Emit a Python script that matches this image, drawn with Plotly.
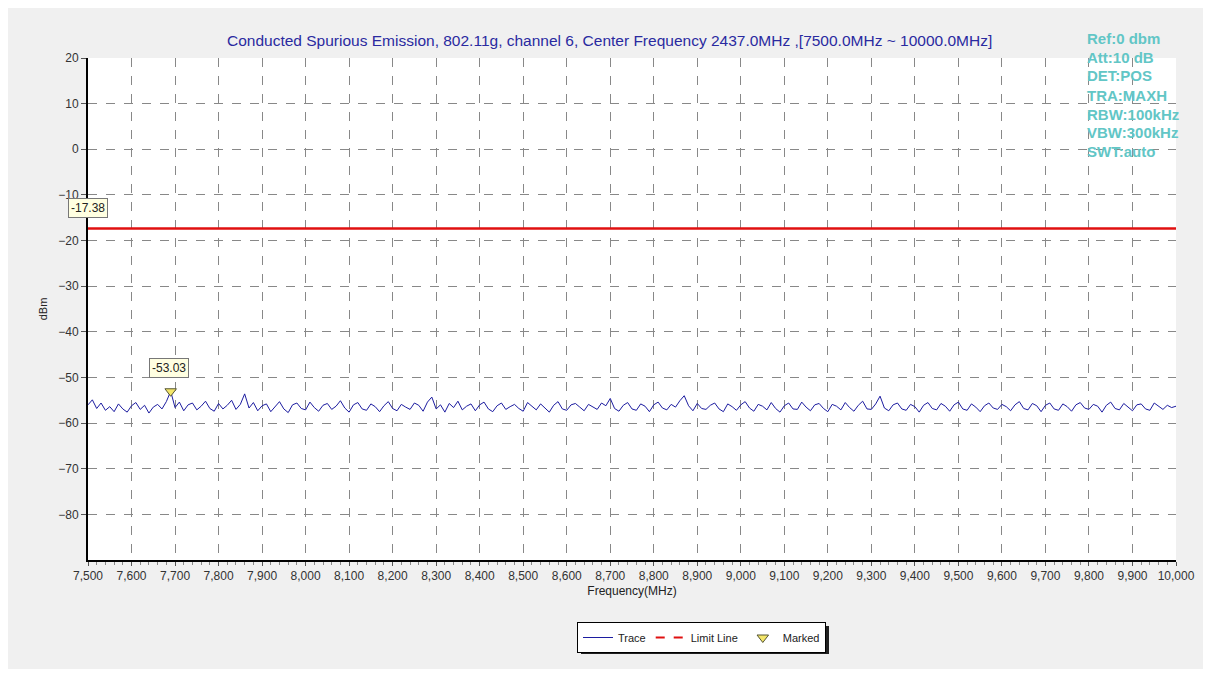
import numpy as np
import plotly.graph_objects as go

# ---------------- data ----------------
f_start = 7500.0
f_stop = 10000.0
trace_dbm = [
    -56.0, -54.9, -56.8, -55.6, -57.2, -56.4, -57.5, -55.8, -56.9, -57.6,
    -56.2, -55.5, -57.0, -56.1, -57.8, -56.5, -55.9, -56.9, -55.3, -53.03,
    -56.6, -55.4, -57.3, -56.0, -55.6, -57.1, -56.3, -55.2, -56.8, -57.4,
    -55.7, -56.9, -56.1, -55.0, -57.0, -55.9, -53.6, -56.7, -55.5, -57.3,
    -56.2, -55.8, -57.5, -56.4, -55.3, -56.9, -57.7, -56.0, -55.6, -56.8,
    -57.1, -55.4, -56.6, -57.4, -56.1, -55.7, -57.0, -56.3, -55.1, -56.7,
    -57.6, -56.0, -55.5, -56.9, -57.2, -55.8, -56.4, -57.5, -56.2, -55.3,
    -56.8, -57.3, -55.9, -56.5, -57.0, -55.6, -56.1, -57.4, -55.4, -54.3,
    -56.9, -56.0, -57.6, -55.7, -56.6, -55.2, -57.1, -56.3, -55.8, -57.3,
    -56.0, -55.4, -56.9, -57.5, -56.2, -55.6, -57.0, -56.4, -55.9, -56.8,
    -57.4, -55.5, -56.3, -57.1, -55.8, -56.7, -57.6, -56.1, -55.3, -56.9,
    -57.2, -56.0, -55.7, -56.5, -57.3, -55.9, -56.4, -57.0, -55.6, -56.2,
    -54.6, -56.8, -57.4, -56.1, -55.5, -56.9, -57.2, -55.8, -56.3, -57.5,
    -56.0, -55.4, -56.7, -57.1, -55.9, -56.5, -55.1, -54.0, -56.2, -57.3,
    -55.7, -56.8, -57.0, -56.1, -55.6, -56.9, -57.5, -55.8, -56.4, -57.2,
    -56.0, -55.3, -56.7, -57.4, -55.9, -56.3, -57.1, -55.5, -56.8, -57.6,
    -56.2, -55.6, -56.9, -57.0, -55.4, -56.5, -57.3, -56.0, -55.7, -56.8,
    -57.5, -55.9, -56.3, -57.1, -55.5, -56.6, -57.4, -56.1, -55.2, -56.9,
    -57.0, -55.8, -54.1, -56.7, -57.3, -56.0, -55.6, -56.9, -57.2, -55.9,
    -56.4, -57.6, -56.1, -55.5, -56.8, -57.1, -55.7, -56.3, -57.4, -56.0,
    -55.4, -56.9, -57.2, -55.8, -56.5, -57.5, -56.2, -55.6, -56.7, -57.0,
    -55.9, -56.4, -57.3, -56.0, -55.3, -56.8, -57.1, -55.7, -56.2, -57.5,
    -56.1, -55.6, -56.9, -57.2, -55.8, -56.4, -57.4, -56.0, -55.5, -56.7,
    -57.0, -55.9, -56.3, -57.6, -56.1, -55.4, -56.8, -57.1, -55.7, -56.5,
    -57.3, -56.0, -55.8, -56.9, -57.2, -55.6, -56.4, -57.0, -56.1, -56.6,
    -56.3,
]
freq_mhz = np.linspace(f_start, f_stop, len(trace_dbm))

limit_dbm = -17.38
limit_freq = [f_start, f_stop]

marked_freq = [7690.0]
marked_dbm = [-53.03]

y_ticks = [20, 10, 0, -10, -20, -30, -40, -50, -60, -70, -80]
x_ticks = list(range(7500, 10001, 100))
x_tick_labels = [f"{v:,}" for v in x_ticks]

title_text = ("Conducted Spurious Emission, 802.11g, channel 6, Center Frequency "
              "2437.0MHz ,[7500.0MHz ~ 10000.0MHz]")
info_lines = ["Ref:0 dbm", "Att:10 dB", "DET:POS", "TRA:MAXH",
              "RBW:100kHz", "VBW:300kHz", "SWT:auto"]

# ---------------- figure ----------------
OFF = 8                      # page body margin
W, H = 1211 - 2 * OFF, 677 - 2 * OFF
PL, PR, PT, PB = 88, 1176, 58, 560   # plot area in screenshot pixels
L, R, T, B = PL - OFF, W - (PR - OFF), PT - OFF, H - (PB - OFF)
pw, ph = W - L - R, H - T - B

def px_x(px):
    return (px - OFF - L) / pw

def px_y(py):
    return (H - B - (py - OFF)) / ph

FONT = "Liberation Sans, Arial, sans-serif"

fig = go.Figure()
fig.add_trace(go.Scatter(x=freq_mhz, y=trace_dbm, mode="lines", name="Trace",
                         line=dict(color="#1c1ca0", width=1)))
fig.add_trace(go.Scatter(x=limit_freq, y=[limit_dbm, limit_dbm], mode="lines",
                         name="Limit Line", showlegend=False,
                         line=dict(color="#e01010", width=2.5)))
fig.add_trace(go.Scatter(x=[None], y=[None], mode="lines", name="Limit Line",
                         line=dict(color="#e01010", width=2, dash="dash")))
fig.add_trace(go.Scatter(x=marked_freq, y=marked_dbm, mode="markers", name="Marked",
                         marker=dict(symbol="triangle-down", size=10, color="#f4e66a",
                                     line=dict(color="#555533", width=1))))

# marker label boxes
fig.add_annotation(x=marked_freq[0], y=marked_dbm[0], text=f"{marked_dbm[0]:.2f}",
                   showarrow=False, yshift=23, xshift=-2,
                   font=dict(family=FONT, size=12, color="#222"),
                   bgcolor="#ffffe1", bordercolor="#777", borderwidth=1, borderpad=2)
fig.add_annotation(x=f_start, y=limit_dbm, text=f"{limit_dbm:.2f}",
                   showarrow=False, yshift=21, xshift=0,
                   font=dict(family=FONT, size=12, color="#222"),
                   bgcolor="#ffffe1", bordercolor="#777", borderwidth=1, borderpad=2)

# title
fig.add_annotation(xref="paper", yref="paper", x=px_x(609), y=px_y(40),
                   text=title_text, showarrow=False, xanchor="center", yanchor="middle",
                   font=dict(family=FONT, size=15.5, color="#2a2aa0"))

# info block
for i, s in enumerate(info_lines):
    fig.add_annotation(xref="paper", yref="paper", x=px_x(1085), y=px_y(38 + i * 19),
                       text=f"<b>{s}</b>", showarrow=False, xanchor="left", yanchor="middle",
                       font=dict(family=FONT, size=15, color="#62c6c6"))

# legend + its shadow (screen pixels)
lx0, lx1, ly0, ly1 = 577, 826, 622, 651
fig.add_shape(type="rect", xref="paper", yref="paper",
              x0=px_x(lx0 + 4), x1=px_x(lx1 + 3), y0=px_y(ly1 + 3), y1=px_y(ly0 + 4),
              line=dict(width=0), fillcolor="#202020", layer="below")

fig.update_layout(
    width=W, height=H,
    margin=dict(l=L, r=R, t=T, b=B, autoexpand=False),
    paper_bgcolor="#f0f0f0", plot_bgcolor="#ffffff",
    font=dict(family=FONT, size=12, color="#333"),
    showlegend=True,
    legend=dict(orientation="h", x=px_x((lx0 + lx1) / 2), y=px_y(ly0),
                xanchor="center", yanchor="top",
                bgcolor="#ffffff", bordercolor="#000000", borderwidth=1,
                font=dict(family=FONT, size=11, color="#222"),
                itemwidth=30, tracegroupgap=0),
)

fig.update_xaxes(range=[f_start, f_stop], tickvals=x_ticks, ticktext=x_tick_labels,
                 showline=True, linecolor="#000", linewidth=2, mirror=False,
                 ticks="outside", ticklen=4, tickcolor="#555", tickwidth=1,
                 minor=dict(dtick=20, ticks="outside", ticklen=3, tickcolor="#888",
                            showgrid=False),
                 showgrid=True, gridcolor="#888", griddash="dash", gridwidth=1,
                 zeroline=False,
                 tickfont=dict(family=FONT, size=12, color="#333"),
                 title=dict(text="Frequency(MHz)", standoff=4,
                            font=dict(family=FONT, size=12, color="#222")))
fig.update_yaxes(range=[-90, 20], tickvals=y_ticks,
                 showline=True, linecolor="#000", linewidth=2, mirror=False,
                 ticks="outside", ticklen=5, tickcolor="#555", tickwidth=1,
                 showgrid=True, gridcolor="#888", griddash="dash", gridwidth=1,
                 zeroline=False,
                 tickfont=dict(family=FONT, size=12, color="#333"),
                 title=dict(text="dBm", standoff=8,
                            font=dict(family=FONT, size=11, color="#222")))

fig.write_html("out.html")
